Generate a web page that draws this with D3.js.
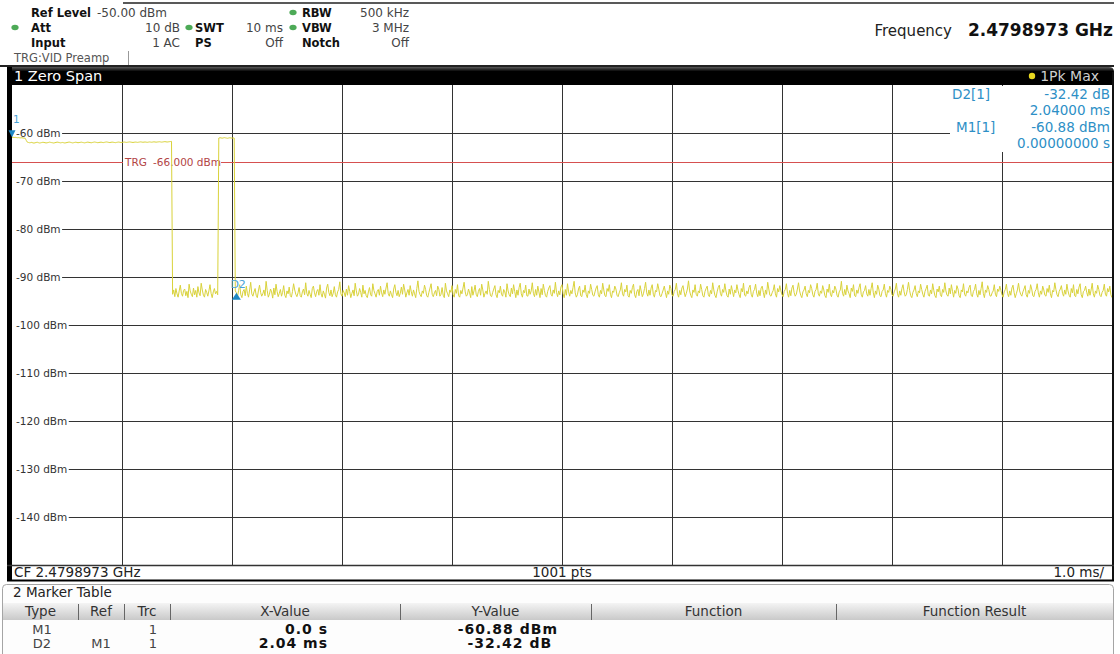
<!DOCTYPE html>
<html><head><meta charset="utf-8">
<script src="https://cdn.jsdelivr.net/npm/d3@7"></script>
<style>
html,body{margin:0;padding:0;background:#fff;}
svg{display:block;font-family:"DejaVu Sans",Verdana,sans-serif;}
</style></head><body>
<svg id="chart" width="1120" height="654"></svg>
<script>
// ---- Sweep settings ----
const sweepTimeMs = 10;          // 1.0 ms/div, 10 divisions
const sweepPoints = 1001;
const refLevel = -50;            // dBm, top of the grid
const levelRange = 100;          // dB shown
const levelTicks = [-60, -70, -80, -90, -100, -110, -120, -130, -140];
const timeDivisions = [1, 2, 3, 4, 5, 6, 7, 8, 9];
const triggerLevel = -66;

// ---- Trace 1 (1Pk Max), dBm, one value per sweep point ----
// first burst, 0.00 .. 1.45 ms
const burstA = [
  -60.88, -60.90, -60.93, -60.91, -60.95, -60.98, -60.96, -61.00, -61.02, -60.99, -61.04, -61.06, -61.10,
  -61.55,
  -61.92, -61.98, -62.03, -62.00, -61.95, -62.06, -62.10, -62.04, -61.97, -61.93, -62.01, -62.08,
  -62.05, -61.99, -61.94, -61.96, -62.02, -62.07, -62.03, -61.98, -61.91, -61.95, -62.00, -62.04,
  -62.09, -62.02, -61.96, -61.90, -61.94, -61.99, -62.05, -62.01, -61.97, -62.03, -62.08, -62.04,
  -61.98, -61.93, -61.89, -61.94, -62.00, -62.06, -62.02, -61.96, -61.92, -61.97, -62.03, -61.99,
  -61.95, -61.91, -61.96, -62.01, -62.05, -62.00, -61.94, -61.90, -61.95, -61.99, -62.04, -61.98,
  -61.93, -61.88, -61.92, -61.97, -62.02, -61.98, -61.94, -61.91, -61.96, -62.00, -61.95, -61.90,
  -61.87, -61.91, -61.96, -61.99, -61.94, -61.90, -61.93, -61.97, -62.01, -61.96, -61.92, -61.89,
  -61.93, -61.98, -61.95, -61.91, -61.88, -61.92, -61.96, -61.93, -61.89, -61.86, -61.90, -61.94,
  -61.97, -61.93, -61.89, -61.91, -61.95, -61.92, -61.88, -61.85, -61.89, -61.93, -61.90, -61.87,
  -61.91, -61.94, -61.90, -61.86, -61.89, -61.92, -61.88, -61.84, -61.87, -61.91, -61.88, -61.85,
  -61.82, -61.86, -61.90, -61.87, -61.83, -61.80, -61.84, -61.88, -61.85, -61.81, -61.78, -61.75
];
// noise between the bursts, 1.46 .. 1.87 ms
const gapNoise = [
  -93.6, -92.7, -94.1, -92.4, -93.5, -94.2, -92.9, -91.7, -93.4, -94.0,
  -92.8, -92.5, -93.9, -93.0, -94.3, -91.5, -92.9, -93.6, -94.1, -92.3,
  -93.7, -92.8, -94.2, -92.0, -93.3, -93.9, -91.3, -92.7, -93.8, -94.2,
  -92.6, -93.2, -94.0, -92.9, -91.6, -93.4, -94.3, -93.1, -92.4, -93.5,
  -93.0, -93.7
];
// second burst, 1.88 .. 2.02 ms
const burstB = [
  -61.05, -60.98, -61.02, -61.08, -61.03, -60.97, -61.01, -61.06, -61.10, -61.04,
  -60.99, -61.03, -61.07, -61.02, -61.05
];
// noise floor, 2.03 .. 10.00 ms
const floorNoise = [
  -92.9, -93.3, -94.1, -92.8, -91.6, -93.7, -94.3, -93.0, -92.6, -93.9, -91.9, -93.4, -94.2, -92.7, -91.1, -93.5, -94.0, -93.1, -92.4, -93.8,
  -94.3, -92.9, -91.7, -93.2, -94.0, -93.5, -92.7, -93.9, -90.9, -92.8, -94.2, -93.6, -92.5, -93.1, -94.4, -92.3, -93.7, -91.5, -93.0, -94.1,
  -93.4, -92.6, -94.0, -93.2, -91.8, -93.8, -94.3, -92.9, -93.5, -92.1, -93.9, -94.2, -93.0, -91.4, -92.7, -93.6, -94.1, -93.3, -92.2, -93.9,
  -94.2, -93.1, -92.5, -93.7, -91.2, -93.4, -94.0, -92.8, -93.6, -94.3, -92.4, -91.9, -93.3, -94.1, -93.0, -92.6, -93.8, -91.6, -93.5, -94.2,
  -92.9, -93.6, -94.4, -92.3, -91.5, -93.2, -93.9, -92.7, -94.1, -93.4, -92.0, -93.7, -94.2, -93.1, -92.6, -91.0, -93.5, -94.0, -92.8, -93.3,
  -94.1, -92.5, -93.8, -91.8, -93.0, -94.3, -93.4, -92.7, -93.9, -91.3, -92.9, -94.0, -93.6, -92.4, -93.2, -94.2, -91.7, -93.5, -92.8, -93.9,
  -94.3, -93.1, -92.2, -93.7, -94.0, -91.4, -92.8, -93.5, -94.2, -93.0, -92.6, -93.8, -91.9, -93.3, -94.1, -92.7, -93.6, -92.3, -91.2, -93.4,
  -94.0, -92.9, -93.7, -94.3, -92.5, -91.6, -93.2, -93.9, -92.8, -94.1, -93.4, -92.1, -93.6, -91.5, -92.7, -94.2, -93.3, -92.6, -93.8, -91.8,
  -93.1, -94.0, -92.7, -93.5, -94.3, -92.4, -90.8, -93.0, -93.7, -94.1, -92.9, -93.4, -91.7, -92.6, -93.9, -94.2, -93.2, -92.3, -91.4, -93.6,
  -94.1, -93.3, -92.8, -93.9, -91.9, -92.5, -94.0, -93.6, -92.2, -93.8, -94.3, -91.3, -92.9, -93.5, -94.1, -92.7, -93.2, -91.8, -93.7, -94.2,
  -92.6, -93.4, -91.6, -93.9, -94.2, -92.8, -93.5, -92.3, -91.1, -93.1, -94.0, -93.7, -92.5, -93.3, -94.3, -92.0, -93.8, -92.9, -91.7, -93.6,
  -94.1, -93.0, -92.4, -93.8, -91.5, -92.7, -94.2, -93.4, -92.9, -93.6, -90.9, -92.6, -93.9, -94.1, -93.2, -92.5, -91.8, -93.7, -94.3, -92.8,
  -93.3, -91.9, -93.6, -94.0, -92.6, -93.1, -94.2, -91.4, -92.9, -93.7, -94.1, -92.3, -93.5, -91.6, -93.0, -94.3, -92.7, -93.8, -92.2, -91.3,
  -93.5, -94.2, -92.8, -93.3, -91.7, -93.9, -94.0, -92.5, -93.6, -92.9, -91.2, -93.4, -94.1, -92.6, -93.8, -91.9, -93.1, -94.3, -92.4, -93.7,
  -91.5, -92.8, -93.9, -94.2, -93.0, -92.3, -91.8, -93.6, -94.0, -92.7, -93.4, -91.1, -93.2, -94.1, -92.9, -93.7, -92.1, -91.6, -93.5, -94.3,
  -92.6, -93.8, -91.4, -93.1, -94.0, -92.8, -93.5, -92.2, -90.9, -93.3, -94.2, -93.7, -92.5, -91.9, -93.9, -94.1, -92.7, -93.2, -91.7, -93.6,
  -94.3, -92.9, -93.4, -91.5, -92.6, -93.8, -94.0, -93.1, -92.3, -91.8, -93.7, -94.2, -92.8, -93.5, -91.3, -92.7, -93.9, -94.1, -92.4, -93.0,
  -91.6, -93.6, -94.3, -92.9, -93.2, -91.9, -92.5, -93.8, -94.1, -93.3, -92.7, -91.2, -93.5, -94.0, -92.6, -93.1, -91.7, -93.9, -94.2, -92.8,
  -93.4, -92.2, -91.5, -93.7, -94.3, -93.0, -92.6, -93.9, -91.8, -92.9, -94.1, -93.5, -92.4, -91.1, -93.3, -94.0, -92.7, -93.8, -92.3, -91.6,
  -93.6, -94.2, -92.8, -93.1, -91.4, -92.5, -93.9, -94.1, -93.4, -92.7, -91.9, -93.2, -94.3, -92.9, -93.6, -91.7, -92.4, -93.8, -94.0, -93.0,
  -92.6, -91.3, -93.5, -94.2, -92.8, -93.7, -92.3, -91.8, -93.1, -94.1, -93.4, -92.5, -90.8, -92.9, -93.8, -94.3, -92.7, -93.2, -91.6, -93.6,
  -94.0, -92.9, -93.3, -91.5, -92.6, -93.9, -94.2, -93.0, -92.4, -91.9, -93.7, -94.1, -92.8, -93.5, -91.2, -92.7, -93.8, -94.3, -93.1, -92.2,
  -91.7, -93.4, -94.0, -92.6, -93.2, -91.4, -92.9, -93.9, -94.2, -92.5, -93.6, -91.8, -93.0, -94.1, -92.7, -93.3, -91.6, -92.8, -93.7, -94.3,
  -92.4, -93.1, -91.3, -93.8, -94.0, -92.9, -93.5, -92.2, -91.7, -93.6, -94.2, -93.0, -92.6, -91.5, -93.4, -94.1, -92.8, -93.9, -92.3, -91.9,
  -93.2, -94.3, -92.7, -93.6, -91.1, -92.5, -93.8, -94.0, -93.3, -92.8, -91.6, -93.5, -94.2, -92.4, -93.1, -91.8, -92.9, -93.7, -94.1, -93.0,
  -92.6, -91.4, -93.4, -94.2, -92.8, -93.9, -92.3, -91.7, -93.2, -94.0, -93.6, -92.5, -91.2, -92.9, -93.8, -94.3, -93.1, -92.7, -91.9, -93.5,
  -94.1, -92.8, -93.3, -91.6, -92.4, -93.7, -94.2, -93.0, -92.6, -91.3, -93.5, -94.0, -92.9, -93.4, -91.8, -92.7, -93.9, -94.3, -92.5, -93.2,
  -91.5, -93.6, -94.1, -92.8, -93.3, -91.9, -92.5, -93.8, -94.2, -93.1, -92.7, -90.9, -93.4, -94.0, -92.6, -93.7, -91.7, -92.9, -93.5, -94.3,
  -92.3, -93.0, -91.6, -93.9, -94.1, -92.7, -93.4, -92.2, -91.4, -93.6, -94.2, -93.1, -92.8, -91.8, -93.5, -94.0, -92.6, -93.8, -92.4, -91.2,
  -93.3, -94.3, -92.9, -93.6, -91.7, -92.5, -93.9, -94.1, -93.0, -92.7, -91.5, -93.4, -94.2, -92.8, -93.2, -91.9, -92.6, -93.7, -94.0, -93.1,
  -92.5, -91.3, -93.5, -94.2, -92.9, -93.8, -92.4, -91.6, -93.1, -94.0, -93.7, -92.6, -91.1, -92.8, -93.9, -94.3, -93.2, -92.7, -91.8, -93.4,
  -94.1, -92.9, -93.3, -91.5, -92.6, -93.6, -94.2, -93.0, -92.4, -91.7, -93.8, -94.0, -92.7, -93.5, -91.4, -92.8, -93.9, -94.3, -92.5, -93.1,
  -91.9, -93.7, -94.1, -92.6, -93.2, -91.2, -92.9, -93.8, -94.0, -92.3, -93.5, -91.6, -93.0, -94.2, -92.8, -93.4, -91.8, -92.5, -93.9, -94.3,
  -92.7, -93.1, -91.4, -93.6, -94.0, -92.9, -93.3, -92.2, -91.7, -93.8, -94.1, -93.0, -92.6, -91.5, -93.5, -94.2, -92.8, -93.7, -92.4, -91.0,
  -93.4, -94.3, -92.7, -93.2, -91.8, -92.6, -93.9, -94.0, -93.3, -92.9, -91.6, -93.6, -94.1, -92.5, -93.0, -91.9, -92.8, -93.7, -94.2, -93.1,
  -92.6, -91.5, -93.4, -94.1, -92.9, -93.8, -92.3, -91.7, -93.2, -94.3, -93.5, -92.7, -91.3, -92.9, -93.6, -94.0, -93.1, -92.5, -91.8, -93.7,
  -94.2, -92.8, -93.4, -91.6, -92.5, -93.9, -94.1, -93.0, -92.6, -91.4, -93.3, -94.2, -92.9, -93.6, -91.9, -92.7, -93.8, -94.0, -92.4, -93.2,
  -91.7, -93.5, -94.3, -92.8, -93.1, -91.2, -92.6, -93.7, -94.1, -93.0, -92.5, -91.8, -93.4, -94.0, -92.7, -93.6, -91.5, -92.9, -93.8, -94.2,
  -92.4, -93.3, -91.6, -93.9, -94.1, -92.6, -93.5, -92.1, -91.4, -93.7, -94.3, -93.0, -92.8, -91.9, -93.2, -94.0, -92.5, -93.8, -92.7, -91.3,
  -93.5, -94.2, -92.9, -93.4, -91.7, -92.6, -93.8, -94.1, -93.2, -92.8, -91.5, -93.6, -94.0, -92.4, -93.1, -91.9, -93.7, -94.3
];
const trace = burstA.concat(gapNoise, burstB, floorNoise);

// ---- Markers ----
const markerM1 = { type: "M1", ref: "", trc: 1, timeMs: 0, level: -60.88 };
const markerD2 = { type: "D2", ref: "M1", trc: 1, timeMs: 2.04, delta: -32.42 };

// ---- Instrument settings ----
const headerRows = [
  [{ dot: null, label: "Ref Level", value: "-50.00 dBm", lx: 31, vx: 97, anchor: "start" },
   { dot: 293, label: "RBW", value: "500 kHz", lx: 302, vx: 409 }],
  [{ dot: 15, label: "Att", value: "10 dB", lx: 31, vx: 180 },
   { dot: 189, label: "SWT", value: "10 ms", lx: 195, vx: 283 },
   { dot: 293, label: "VBW", value: "3 MHz", lx: 302, vx: 409 }],
  [{ dot: null, label: "Input", value: "1 AC", lx: 31, vx: 180 },
   { dot: null, label: "PS", value: "Off", lx: 195, vx: 283 },
   { dot: null, label: "Notch", value: "Off", lx: 302, vx: 409 }]
];
const centerFreq = "2.4798973 GHz";
const tableColumns = ["Type", "Ref", "Trc", "X-Value", "Y-Value", "Function", "Function Result"];

// ---- Layout ----
const svg = d3.select("#chart");
const plot = { l: 12, r: 1112, t: 85, b: 565 };
const x = d3.scaleLinear().domain([0, sweepTimeMs]).range([plot.l, plot.r]);
const y = d3.scaleLinear().domain([refLevel - levelRange, refLevel]).range([plot.b, plot.t]);
const idxTime = d3.scaleLinear().domain([0, sweepPoints - 1]).range([0, sweepTimeMs]);

const defs = svg.append("defs");
const tg = defs.append("linearGradient").attr("id", "titleGrad").attr("x1", 0).attr("y1", 0).attr("x2", 0).attr("y2", 1);
tg.append("stop").attr("offset", "0%").attr("stop-color", "#5a5a5a");
tg.append("stop").attr("offset", "25%").attr("stop-color", "#000");
tg.append("stop").attr("offset", "100%").attr("stop-color", "#000");
const hg = defs.append("linearGradient").attr("id", "headGrad").attr("x1", 0).attr("y1", 0).attr("x2", 0).attr("y2", 1);
hg.append("stop").attr("offset", "0%").attr("stop-color", "#f4f4f4");
hg.append("stop").attr("offset", "100%").attr("stop-color", "#c9c9c9");
defs.append("clipPath").attr("id", "plotClip").append("rect")
  .attr("x", plot.l).attr("y", plot.t).attr("width", plot.r - plot.l).attr("height", plot.b - plot.t);

// ---- Settings header ----
const head = svg.append("g").attr("font-size", 12);
head.append("line").attr("x1", 123).attr("x2", 1114).attr("y1", 3).attr("y2", 3)
  .attr("stroke", "#222").attr("stroke-width", 1.5);
headerRows.forEach((row, ri) => {
  const by = 17 + ri * 15;
  row.forEach(c => {
    if (c.dot !== null) head.append("ellipse").attr("cx", c.dot).attr("cy", by - 4.5).attr("rx", 3.6).attr("ry", 2.8)
      .attr("fill", "#4daa57");
    head.append("text").attr("x", c.lx).attr("y", by).attr("font-weight", "bold").attr("font-size", 11.5)
      .attr("fill", "#111").text(c.label);
    head.append("text").attr("x", c.vx).attr("y", by).attr("text-anchor", c.anchor || "end")
      .attr("fill", "#444").text(c.value);
  });
});
head.append("text").attr("x", 14).attr("y", 62).attr("font-size", 11.5).attr("fill", "#555").text("TRG:VID Preamp");
head.append("line").attr("x1", 128.5).attr("x2", 128.5).attr("y1", 51).attr("y2", 66).attr("stroke", "#999");
head.append("text").attr("x", 952).attr("y", 36).attr("font-size", 15).attr("text-anchor", "end")
  .attr("fill", "#222").text("Frequency");
head.append("text").attr("x", 1113).attr("y", 36).attr("font-size", 17).attr("font-weight", "bold")
  .attr("text-anchor", "end").attr("fill", "#111").text(centerFreq);
head.append("line").attr("x1", 0).attr("x2", 1114).attr("y1", 66).attr("y2", 66)
  .attr("stroke", "#222").attr("stroke-width", 2);

// ---- Window title bar ----
svg.append("path")
  .attr("d", `M7,67 H1109 Q1114,67 1114,72 V85 H7 Z`)
  .attr("fill", "url(#titleGrad)");
svg.append("text").attr("x", 14).attr("y", 81).attr("font-size", 14.5).attr("fill", "#fff").text("1 Zero Span");
svg.append("circle").attr("cx", 1032).attr("cy", 76).attr("r", 3.2).attr("fill", "#e8d820");
svg.append("text").attr("x", 1099).attr("y", 81).attr("font-size", 14).attr("text-anchor", "end")
  .attr("fill", "#cfcfcf").text("1Pk Max");

// ---- Grid ----
const gx = svg.append("g").attr("transform", `translate(0,${plot.b})`)
  .call(d3.axisBottom(x).tickValues(timeDivisions).tickSize(-(plot.b - plot.t)).tickFormat(""));
gx.select(".domain").remove();
gx.selectAll("line").attr("stroke", "#333");

const gy = svg.append("g").attr("transform", `translate(${plot.l},0)`)
  .call(d3.axisLeft(y).tickValues(levelTicks).tickSize(-(plot.r - plot.l)).tickFormat(""));
gy.select(".domain").remove();
gy.selectAll("line").attr("stroke", "#333");

// level labels sit on the grid lines, inside the plot, masking the line behind them
const lab = svg.append("g").attr("font-size", 10.5);
levelTicks.forEach(v => {
  const bg = lab.append("rect").attr("x", plot.l).attr("y", y(v) - 6).attr("height", 12).attr("fill", "#fff");
  const t = lab.append("text").attr("x", 16).attr("y", y(v)).attr("dy", "0.36em").attr("fill", "#333").text(`${v} dBm`);
  bg.attr("width", 16 - plot.l + t.node().getComputedTextLength() + 1.5);
});

// ---- Trigger level ----
svg.append("line").attr("x1", plot.l).attr("x2", plot.r).attr("y1", Math.round(y(triggerLevel)) + 0.5)
  .attr("y2", Math.round(y(triggerLevel)) + 0.5).attr("stroke", "#d65050").attr("stroke-width", 1);
svg.append("rect").attr("x", x(1) + 1).attr("y", y(triggerLevel) - 6).attr("width", 98).attr("height", 12).attr("fill", "#fff");
const trg = svg.append("g").attr("font-size", 10.5).attr("fill", "#b24545");
trg.append("text").attr("x", x(1) + 3).attr("y", y(triggerLevel)).attr("dy", "0.36em").text("TRG");
trg.append("text").attr("x", x(1) + 31).attr("y", y(triggerLevel)).attr("dy", "0.36em").text(`${triggerLevel.toFixed(3)} dBm`);

// ---- Marker readout box ----
svg.append("rect").attr("x", 950).attr("y", plot.t + 1).attr("width", plot.r - 950).attr("height", 66).attr("fill", "#fff");
const d2Level = markerM1.level + markerD2.delta;
const ro = svg.append("g").attr("font-size", 13.5).attr("fill", "#2d8fc6");
ro.append("text").attr("x", 952).attr("y", 99).text("D2[1]");
ro.append("text").attr("x", 1110).attr("y", 99).attr("text-anchor", "end").text(`${markerD2.delta.toFixed(2)} dB`);
ro.append("text").attr("x", 1110).attr("y", 115).attr("text-anchor", "end").text(`${markerD2.timeMs.toFixed(5)} ms`);
ro.append("text").attr("x", 956).attr("y", 132).text("M1[1]");
ro.append("text").attr("x", 1110).attr("y", 132).attr("text-anchor", "end").text(`${markerM1.level.toFixed(2)} dBm`);
ro.append("text").attr("x", 1110).attr("y", 148).attr("text-anchor", "end").text(`${markerM1.timeMs.toFixed(8)} s`);

// ---- Trace ----
const line = d3.line().x((d, i) => x(idxTime(i))).y(d => y(d));
svg.append("path").datum(trace).attr("clip-path", "url(#plotClip)")
  .attr("d", line).attr("fill", "none").attr("stroke", "#d9d23a").attr("stroke-width", 1)
  .attr("stroke-linejoin", "round");

// ---- Frame ----
svg.append("rect").attr("x", 7).attr("y", 67).attr("width", 5).attr("height", 514).attr("fill", "#000");
svg.append("rect").attr("x", plot.r).attr("y", 72).attr("width", 2).attr("height", 509).attr("fill", "#111");
svg.append("line").attr("x1", 7).attr("x2", 1114).attr("y1", plot.b + 0.5).attr("y2", plot.b + 0.5)
  .attr("stroke", "#333").attr("stroke-width", 1.5);
svg.append("line").attr("x1", 7).attr("x2", 1114).attr("y1", 580.5).attr("y2", 580.5)
  .attr("stroke", "#000").attr("stroke-width", 2);

// ---- Marker symbols ----
const mk = svg.append("g").attr("fill", "#1d87c4");
const m1x = x(markerM1.timeMs), m1y = y(markerM1.level);
mk.append("path").attr("d", `M${m1x - 3.5},${m1y - 7} L${m1x + 3.5},${m1y - 7} L${m1x},${m1y} Z`);
mk.append("text").attr("x", m1x + 1).attr("y", m1y - 14).attr("font-size", 10.5).attr("fill", "#4aa3d6").text("1");
const d2x = x(markerD2.timeMs), d2y = y(d2Level);
mk.append("path").attr("d", `M${d2x - 4.5},${d2y + 7} L${d2x + 4.5},${d2y + 7} L${d2x},${d2y} Z`);
mk.append("text").attr("x", d2x - 6).attr("y", d2y - 5).attr("font-size", 11).attr("fill", "#4aa3d6").text("D2");

// ---- Status line ----
const st = svg.append("g").attr("font-size", 13.5).attr("fill", "#222");
st.append("text").attr("x", 14).attr("y", 577).text(`CF ${centerFreq}`);
st.append("text").attr("x", x(sweepTimeMs / 2)).attr("y", 577).attr("text-anchor", "middle").text(`${sweepPoints} pts`);
st.append("text").attr("x", 1104).attr("y", 577).attr("text-anchor", "end").text(`${(sweepTimeMs / 10).toFixed(1)} ms/`);

// ---- Marker table ----
svg.append("rect").attr("x", 2.5).attr("y", 584.5).attr("width", 1111).attr("height", 80).attr("rx", 4)
  .attr("fill", "#fdfdfd").attr("stroke", "#a5a5a5");
svg.append("text").attr("x", 13).attr("y", 597).attr("font-size", 13.5).attr("fill", "#222").text("2 Marker Table");
svg.append("rect").attr("x", 3).attr("y", 603).attr("width", 1110).attr("height", 17).attr("fill", "url(#headGrad)");
const colEdges = [3, 78, 124, 170, 400, 591, 836, 1113];
const th = svg.append("g").attr("font-size", 13.5).attr("fill", "#333");
tableColumns.forEach((c, i) => {
  th.append("text").attr("x", (colEdges[i] + colEdges[i + 1]) / 2).attr("y", 616).attr("text-anchor", "middle").text(c);
  if (i > 0) th.append("line").attr("x1", colEdges[i] + 0.5).attr("x2", colEdges[i] + 0.5)
    .attr("y1", 604).attr("y2", 620).attr("stroke", "#666");
});
const rows = [
  { type: markerM1.type, ref: markerM1.ref, trc: markerM1.trc, xv: `${markerM1.timeMs.toFixed(1)} s`, yv: `${markerM1.level.toFixed(2)} dBm` },
  { type: markerD2.type, ref: markerD2.ref, trc: markerD2.trc, xv: `${markerD2.timeMs.toFixed(2)} ms`, yv: `${markerD2.delta.toFixed(2)} dB ` }
];
rows.forEach((r, i) => {
  const by = 634 + i * 14;
  const g = svg.append("g").attr("font-size", 13).attr("fill", "#444");
  g.append("text").attr("x", 42).attr("y", by).attr("text-anchor", "middle").text(r.type);
  g.append("text").attr("x", 101).attr("y", by).attr("text-anchor", "middle").text(r.ref);
  g.append("text").attr("x", 153).attr("y", by).attr("text-anchor", "middle").text(r.trc);
  g.append("text").attr("x", 328).attr("y", by).attr("text-anchor", "end").attr("font-weight", "bold")
    .attr("font-size", 14).attr("letter-spacing", 1).attr("fill", "#111").text(r.xv);
  g.append("text").attr("x", 558).attr("y", by).attr("text-anchor", "end").attr("font-weight", "bold")
    .attr("font-size", 14).attr("letter-spacing", 1).attr("fill", "#111").attr("xml:space", "preserve").text(r.yv);
});
</script>
</body></html>
